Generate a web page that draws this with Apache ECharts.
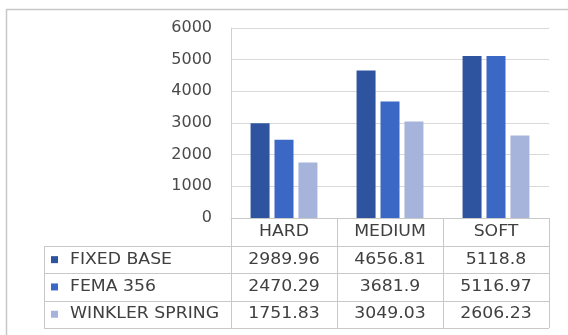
<!DOCTYPE html>
<html>
<head>
<meta charset="utf-8">
<script src="https://cdn.jsdelivr.net/npm/echarts@6/dist/echarts.min.js"></script>
<style>
  html, body { margin: 0; padding: 0; background: #fff; }
  #chart { width: 568px; height: 335px; }
</style>
</head>
<body>
<div id="chart"></div>
<script>
// soil types
const categories = ['HARD', 'MEDIUM', 'SOFT']
const seriesNames = ['FIXED BASE', 'FEMA 356', 'WINKLER SPRING']
const fixedBase = [2989.96, 4656.81, 5118.8]
const fema356 = [2470.29, 3681.9, 5116.97]
const winklerSpring = [1751.83, 3049.03, 2606.23]
const tableText = [
  ['2989.96', '4656.81', '5118.8'],
  ['2470.29', '3681.9', '5116.97'],
  ['1751.83', '3049.03', '2606.23']
]
const colors = ['#2e54a0', '#3b68c4', '#a6b4dc']

const chart = echarts.init(document.getElementById('chart'))
const seriesData = [fixedBase, fema356, winklerSpring]

chart.setOption({
  animation: false,
  grid: { left: 231, right: 19, top: 28, bottom: 117 },
  xAxis: {
    type: 'category',
    data: categories,
    axisLine: { lineStyle: { color: '#c8c8c8' } },
    // ticks run down through the data table as column separators
    axisTick: { show: true, length: 110, lineStyle: { color: '#c8c8c8' } },
    axisLabel: { show: false }
  },
  yAxis: {
    type: 'value',
    min: 0,
    max: 6000,
    interval: 1000,
    axisLine: { show: true, lineStyle: { color: '#d0d0d0' } },
    splitLine: { lineStyle: { color: '#d9d9d9' } },
    axisLabel: {
      margin: 19,
      color: '#4a4a4a',
      fontFamily: 'DejaVu Sans',
      fontSize: 16,
      formatter: v => String(v)
    }
  },
  series: seriesNames.map((name, i) => ({
    name: name,
    type: 'bar',
    data: seriesData[i],
    barWidth: 19,
    barGap: '26%',
    itemStyle: { color: colors[i] }
  }))
})

// data table below the plot
const y0 = chart.convertToPixel({ yAxisIndex: 0 }, 0)
const rightX = 549
const leftX = 44
const headH = 28
const rowH = 27.3
const font = '15px "DejaVu Sans"'
const sx = 1.15
const g = []

// outer frame
g.push({ type: 'rect', shape: { x: 6.5, y: 9.5, width: 700, height: 500 },
  style: { fill: null, stroke: '#c8c8c8', lineWidth: 1.5 } })

for (let r = 0; r <= 3; r++) {
  const y = Math.round(y0 + headH + r * rowH) + 0.5
  g.push({ type: 'line', shape: { x1: leftX, y1: y, x2: rightX, y2: y },
    style: { stroke: '#c8c8c8', lineWidth: 1 } })
}
g.push({ type: 'line', shape: { x1: leftX + 0.5, y1: Math.round(y0 + headH) + 0.5, x2: leftX + 0.5, y2: Math.round(y0 + headH + 3 * rowH) + 0.5 },
  style: { stroke: '#c8c8c8', lineWidth: 1 } })

categories.forEach((c, j) => {
  const cx = chart.convertToPixel({ xAxisIndex: 0 }, c)
  g.push({ type: 'text', x: cx, y: y0 + headH / 2, scaleX: sx,
    style: { text: c, x: 0, y: 0, align: 'center', verticalAlign: 'middle', font: font, fill: '#404040' } })
  tableText.forEach((row, i) => {
    g.push({ type: 'text', x: cx, y: y0 + headH + (i + 0.5) * rowH, scaleX: sx,
      style: { text: row[j], x: 0, y: 0, align: 'center', verticalAlign: 'middle', font: font, fill: '#404040' } })
  })
})

seriesNames.forEach((name, i) => {
  const cy = y0 + headH + (i + 0.5) * rowH
  g.push({ type: 'rect', shape: { x: 51, y: cy - 3.5, width: 7, height: 7 }, style: { fill: colors[i] } })
  g.push({ type: 'text', x: 70, y: cy, scaleX: sx,
    style: { text: name, x: 0, y: 0, align: 'left', verticalAlign: 'middle', font: font, fill: '#404040' } })
})

chart.setOption({ graphic: g })
</script>
</body>
</html>
